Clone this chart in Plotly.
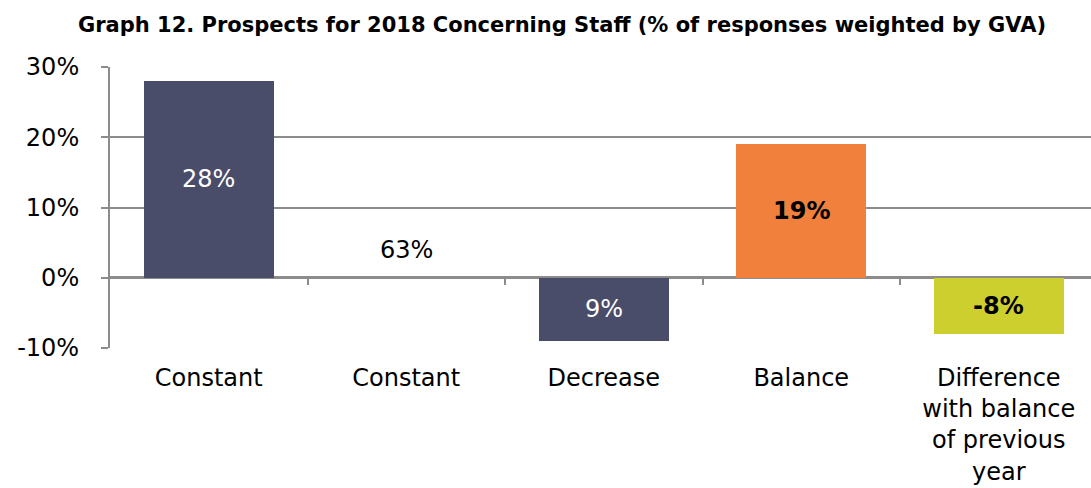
import plotly.graph_objects as go

# Survey results: prospects for staff in 2018 (% of responses weighted by GVA)
categories = ["Constant", "Constant", "Decrease", "Balance",
              "Difference<br>with balance<br>of previous<br>year"]
values = [28, 63, -9, 19, -8]
bar_colors = ["#4a4d6a", "rgba(0,0,0,0)", "#4a4d6a", "#f0803c", "#cccf2e"]
label_colors = ["white", "black", "white", "black", "black"]
label_bold = [False, False, False, True, True]
y_ticks = [-10, 0, 10, 20, 30]
y_tick_labels = ["-10%", "0%", "10%", "20%", "30%"]

FONT = "DejaVu Sans"
GRID = "#8c8c8c"
TXT = 24
x_pos = list(range(len(categories)))
x_range = [-0.5, 4.467]

fig = go.Figure()
fig.add_trace(go.Bar(
    x=x_pos, y=values, width=0.66,
    marker=dict(color=bar_colors, line=dict(width=0)),
    hoverinfo="skip", showlegend=False,
))
# empty trace so the boundary-tick axis is rendered
fig.add_trace(go.Scatter(x=[], y=[], xaxis="x2", showlegend=False))

annotations = []
for i, v in enumerate(values):
    txt = f"{abs(v)}%" if categories[i] == "Decrease" else f"{v}%"
    if label_bold[i]:
        txt = f"<b>{txt}</b>"
    # bars that run off the axis keep their label just above the baseline
    y_lab = v / 2 if abs(v) <= 30 else 4
    annotations.append(dict(
        x=i, y=y_lab, xref="x", yref="y", text=txt, showarrow=False,
        font=dict(family=FONT, size=TXT, color=label_colors[i]),
        xanchor="center", yanchor="middle",
    ))

annotations.append(dict(
    x=(562 - 110) / 981, y=1.149, xref="paper", yref="paper",
    text="<b>Graph 12. Prospects for 2018 Concerning Staff (% of responses weighted by GVA)</b>",
    showarrow=False, xanchor="center", yanchor="middle",
    font=dict(family=FONT, size=21, color="black"),
))

fig.update_layout(
    width=1091, height=488,
    margin=dict(l=110, r=0, t=67, b=140),
    paper_bgcolor="white", plot_bgcolor="white",
    font=dict(family=FONT, size=TXT, color="black"),
    annotations=annotations,
    bargap=0,
    xaxis=dict(
        range=x_range, tickmode="array", tickvals=x_pos, ticktext=categories,
        showgrid=False, zeroline=False, showline=False, ticks="",
        ticklabelstandoff=13,
        tickfont=dict(family=FONT, size=TXT, color="black"),
    ),
    xaxis2=dict(
        range=x_range, overlaying="x", anchor="free", position=0.25,
        tickmode="array", tickvals=[0.5, 1.5, 2.5, 3.5],
        ticks="outside", ticklen=6, tickwidth=2, tickcolor=GRID,
        showticklabels=False, showgrid=False, zeroline=False, showline=False,
    ),
    yaxis=dict(
        range=[-10, 30], tickmode="array", tickvals=y_ticks, ticktext=y_tick_labels,
        showgrid=True, gridcolor=GRID, gridwidth=2,
        zeroline=True, zerolinecolor=GRID, zerolinewidth=3,
        showline=True, linecolor=GRID, linewidth=2,
        ticks="outside", ticklen=7, tickwidth=2, tickcolor=GRID,
        ticklabelstandoff=17,
        tickfont=dict(family=FONT, size=TXT, color="black"),
    ),
)

fig.write_html("out.html")
